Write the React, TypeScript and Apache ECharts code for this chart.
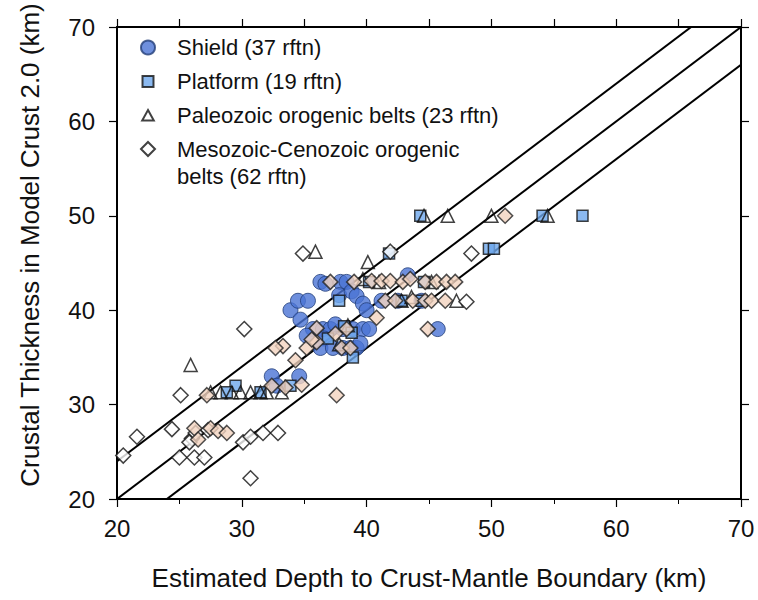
import React, { useEffect, useRef } from "react";
import * as echarts from "echarts";

// Estimated Moho depth (x) vs. CRUST 2.0 thickness (y), km
const shield: number[][] = [
  [32.4, 33], [34.6, 33], [32.8, 32], [33.9, 40], [34.5, 41], [35.3, 41], [34.7, 39],
  [36.3, 43], [37.9, 43], [38.4, 43], [36.7, 42.8], [37.8, 41.6], [38.8, 42], [39.2, 41.5],
  [39.7, 40.7], [40.0, 40], [35.7, 38], [36.5, 38], [37.1, 38], [38.1, 38], [38.9, 38],
  [39.7, 38], [40.2, 38], [36.6, 37], [36.3, 36], [37.3, 36], [38.1, 36], [38.7, 36],
  [39.2, 36], [37.5, 38.5], [43.3, 43.7], [42.5, 41], [45.7, 38], [41.2, 41], [44.4, 41],
  [35.2, 37.3], [39.5, 36.5],
];

const platform: number[][] = [
  [29.5, 32], [33.9, 32], [37.8, 41], [38.9, 35], [44.3, 50], [54.1, 50], [57.3, 50],
  [49.8, 46.5], [50.2, 46.5], [44.4, 41], [42.8, 41], [41.8, 46], [38.2, 38.3], [44.6, 43],
  [36.9, 37], [40.2, 43], [28.8, 31.3], [31.5, 31.3], [38.8, 37.6],
];

const paleozoic: number[][] = [
  [25.9, 34.2], [35.9, 46.2], [40.1, 45.1], [46.5, 50], [50, 50], [54.5, 50], [47.2, 41],
  [27.5, 31.3], [28.3, 31.3], [29.2, 31.3], [29.9, 31.3], [30.7, 31.3], [31.5, 31.3],
  [33.2, 31.3], [44.6, 50], [42.8, 41], [43.6, 41.4], [41, 43], [38.5, 38.4], [37.8, 36.4],
  [32, 31.3], [45.2, 43], [39.7, 43.3],
];

// Mesozoic-Cenozoic belts, open symbols
const mesoOpen: number[][] = [
  [20.5, 24.6], [21.6, 26.6], [24.4, 27.4], [25.1, 31], [25, 24.4], [26.2, 24.4], [27, 24.4],
  [26, 26.4], [30.1, 26], [30.7, 26.6], [31.7, 27], [32.9, 27], [30.7, 22.2], [30.2, 38],
  [34.9, 46], [41.9, 46.2], [48.4, 46], [48, 40.9], [27.3, 27.3], [26.3, 27], [25.8, 26],
];

// Mesozoic-Cenozoic belts, shaded symbols
const mesoShaded: number[][] = [
  [37.1, 43], [39, 43], [40.4, 43.1], [41.2, 43.1], [41.9, 43.1], [42.9, 43], [43.5, 43.3],
  [44.7, 43], [45.6, 43], [46.4, 43], [47.1, 43],
  [41.5, 41], [42.3, 41], [43.7, 41], [44.7, 41], [45.2, 41], [46.3, 41],
  [26.2, 27.5], [27.5, 27.5], [28.1, 27.2], [28.8, 27], [27.2, 31], [33.3, 36.2], [35.2, 36],
  [36, 36.6], [34.3, 34.7], [34.8, 32.1], [37.6, 31], [38, 36], [38.7, 36], [40.8, 39.2],
  [36, 38.1], [38.4, 38], [35.6, 36.9], [32.7, 36], [44.9, 38], [51.1, 50], [32.4, 32],
  [37.5, 37.5], [26.5, 26.3], [33.5, 31.8],
];

// Reference lines y = x + offset (km)
const lineOffsets = [4, 0, -4];
const axisTicks = [20, 30, 40, 50, 60, 70];

const names = [
  "Shield (37 rftn)",
  "Platform (19 rftn)",
  "Paleozoic orogenic belts (23 rftn)",
  "Mesozoic-Cenozoic orogenic belts (62 rftn)",
];

const FONT = "Liberation Sans, Arial, Helvetica, sans-serif";

// Legend glyphs drawn a little smaller than the 14px legend cell
const squareIcon = "path://M0,0M14,14M1.5,1.5h11v11h-11z";
const triangleIcon = "path://M0,0M14,14M7,1.5L12.8,12H1.2Z";

export default function App() {
  const ref = useRef<HTMLDivElement>(null);

  useEffect(() => {
    if (!ref.current) return;
    const chart = echarts.init(ref.current, undefined, { renderer: "svg" });
    const lo = axisTicks[0];
    const hi = axisTicks[axisTicks.length - 1];

    const frameAxis = (extra: any) => ({
      type: "value",
      min: lo,
      max: hi,
      interval: 10,
      axisLine: { show: true, onZero: false, lineStyle: { color: "#000", width: 2 } },
      axisTick: { show: true, inside: false, length: 8, lineStyle: { color: "#000", width: 1.2 } },
      splitLine: { show: false },
      ...extra,
    });

    const lineSeries = lineOffsets.map((d) => ({
      type: "line",
      data: [[lo - 10, lo - 10 + d], [hi + 10, hi + 10 + d]],
      symbol: "none",
      clip: true,
      silent: true,
      lineStyle: { color: "#000", width: 2 },
      z: 1,
    }));

    const legendText = {
      fontFamily: FONT,
      fontSize: 22,
      lineHeight: 27,
      color: "#111",
      padding: [0, 0, 0, 17],
    };

    chart.setOption({
      animation: false,
      backgroundColor: "#fff",
      textStyle: { fontFamily: FONT },
      grid: { left: 117, top: 19, width: 624, height: 480 },
      legend: [
        {
          left: 135,
          top: 29,
          orient: "vertical",
          itemWidth: 14,
          itemHeight: 14,
          itemGap: 7,
          selectedMode: false,
          textStyle: legendText,
          data: [
            { name: names[0] },
            { name: names[1], icon: squareIcon },
            { name: names[2], icon: triangleIcon },
          ],
        },
        {
          // two-line entry: first line level with its symbol
          left: 135,
          top: 117,
          orient: "vertical",
          itemWidth: 14,
          itemHeight: 14,
          selectedMode: false,
          textStyle: {
            ...legendText,
            rich: {
              a: { fontFamily: FONT, fontSize: 22, lineHeight: 54, color: "#111" },
              b: { fontFamily: FONT, fontSize: 22, lineHeight: 0.01, color: "#111" },
            },
          },
          data: [{ name: names[3] }],
          formatter: () => "{a|Mesozoic-Cenozoic orogenic}\n{b|belts (62 rftn)}",
        },
      ],
      xAxis: [
        frameAxis({
          position: "bottom",
          name: "Estimated Depth to Crust-Mantle Boundary (km)",
          nameLocation: "middle",
          nameGap: 66,
          nameTextStyle: { fontFamily: FONT, fontSize: 26, color: "#111" },
          minorTick: { show: true, splitNumber: 2, length: 5, lineStyle: { color: "#000" } },
          axisLabel: { fontFamily: FONT, fontSize: 24, color: "#111", margin: 17 },
        }),
        frameAxis({
          position: "top",
          interval: 5,
          axisLabel: { show: false },
        }),
      ],
      yAxis: [
        frameAxis({
          position: "left",
          name: "Crustal Thickness in Model Crust 2.0 (km)",
          nameLocation: "middle",
          nameGap: 74,
          nameTextStyle: {
            fontFamily: FONT,
            fontSize: 26,
            color: "#111",
            padding: [0, 0, 0, 36],
          },
          axisLabel: { fontFamily: FONT, fontSize: 24, color: "#111", margin: 22 },
        }),
        frameAxis({
          position: "right",
          axisLabel: { show: false },
        }),
      ],
      series: [
        ...lineSeries,
        {
          name: names[0],
          type: "scatter",
          data: shield,
          symbol: "circle",
          symbolSize: 15,
          itemStyle: { color: "#4a73d4", borderColor: "#223d78", borderWidth: 1 },
          z: 2,
        },
        {
          name: names[1],
          type: "scatter",
          data: platform,
          symbol: "rect",
          symbolSize: 11,
          itemStyle: { color: "#6ea8ec", borderColor: "#111", borderWidth: 1.5 },
          z: 3,
        },
        {
          name: names[2],
          type: "scatter",
          data: paleozoic,
          symbol: "triangle",
          symbolSize: 13,
          itemStyle: { color: "rgba(255,255,255,0)", borderColor: "#111", borderWidth: 1.5 },
          z: 4,
        },
        {
          name: names[3],
          type: "scatter",
          data: mesoOpen,
          symbol: "diamond",
          symbolSize: 15,
          itemStyle: { color: "#fff", borderColor: "#111", borderWidth: 1.5 },
          z: 5,
        },
        {
          name: "Mesozoic-Cenozoic (shaded)",
          type: "scatter",
          data: mesoShaded,
          symbol: "diamond",
          symbolSize: 15,
          itemStyle: { color: "#f3d3bf", borderColor: "#222", borderWidth: 1.5 },
          z: 5,
        },
      ],
    });

    return () => chart.dispose();
  }, []);

  return (
    <div
      ref={ref}
      style={{ position: "fixed", left: 0, top: 0, width: 758, height: 600, background: "#fff" }}
    />
  );
}
